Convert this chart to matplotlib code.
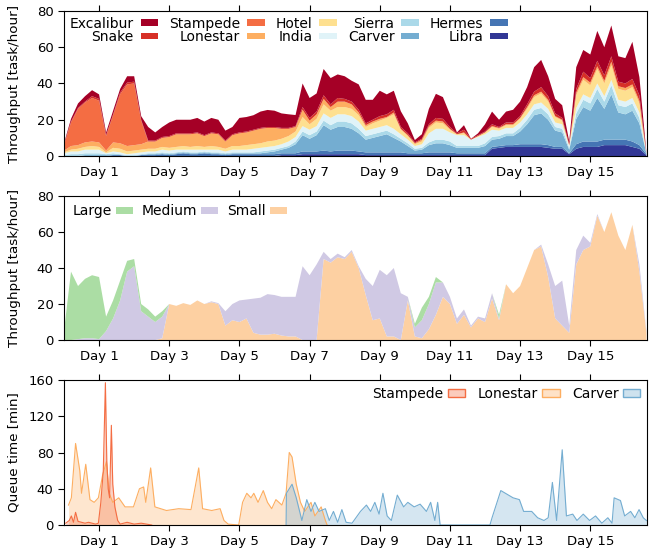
import numpy as np
import matplotlib.pyplot as plt
from matplotlib.patches import Patch

# ---- data ----
# sample times in days, one every 0.2 day
days = np.arange(84) * 0.2

# top panel: throughput per cluster [task/hour], stacked from bottom up
libra = [0, 0, 0, 0, 0, 0, 0, 0, 0, 0,
         0, 0, 0, 0, 0, 0, 0, 0, 0, 0,
         0, 0, 0, 0, 0, 0, 0, 0, 0, 0,
         0, 0.5, 0.5, 0.5, 1, 1, 1, 1, 1, 1,
         1, 1, 1, 0.5, 0.5, 0.5, 0.5, 0.5, 0.5, 0.5,
         0.5, 0.5, 0.5, 0.5, 0.5, 0.5, 0.5, 0.5, 0.5, 0.5,
         0.5, 4, 4.5, 5, 5, 5, 5, 5, 5, 4.5,
         4, 4, 1, 4, 5, 5, 5, 6, 6, 6,
         6, 5, 4, 0.5]
hermes = [0, 0, 0, 0, 0, 0, 0, 0.5, 0.5, 0,
          0, 0.5, 0.5, 0.5, 1, 0.5, 1, 1.5, 1, 1,
          1.5, 1, 1, 0.5, 1, 1, 1, 1, 1, 1,
          1, 1, 1, 1, 1.5, 1.5, 1.5, 2, 1.5, 2,
          2, 2, 1.5, 1.5, 1.5, 1.5, 1.5, 1.5, 1.5, 1,
          1, 1, 1.5, 1.5, 1.5, 1.5, 1, 1, 1, 1,
          1, 1, 1, 1, 1, 1.5, 1.5, 1.5, 1.5, 1.5,
          1, 1, 0.5, 2.5, 3, 3, 3, 3, 3, 3,
          3, 3, 2, 0.5]
carver = [0, 0, 0, 0.5, 0.5, 0.5, 0.5, 0, 0, 0,
          0, 0, 0.5, 0.5, 0.5, 0.5, 0.5, 0.5, 0.5, 0.5,
          0.5, 0.5, 0.5, 0.5, 0.5, 0.5, 0.5, 0.5, 0.5, 1,
          1.5, 2, 3, 5, 9, 7, 9, 14, 12, 13,
          13, 12, 10, 7, 8, 9, 10, 8, 6, 4,
          1.5, 2, 4, 5, 5, 4, 3, 3, 3, 3,
          4, 4, 4, 5, 5, 7, 11, 16, 17, 14,
          9, 8, 2, 14, 19, 17, 24, 17, 25, 15,
          14, 17, 12, 0.5]
sierra = [0.5, 1, 1, 1, 1, 1, 0.5, 1, 0.5, 0.5,
          0.5, 0.5, 0.5, 0.5, 0.5, 0.5, 0.5, 0.5, 0.5, 0.5,
          0.5, 0.5, 0.5, 0.5, 0.5, 0.5, 0.5, 0.5, 1, 1,
          1, 1, 1, 1.5, 2, 2, 2, 2.5, 2.5, 3,
          3, 3, 2.5, 2, 2, 2, 2, 2, 1.5, 1.5,
          1, 1, 1.5, 2, 2, 2, 1, 1, 1, 1,
          1.5, 1.5, 1.5, 1.5, 1.5, 2, 2.5, 3, 3, 3,
          2, 2, 1, 3, 4, 4, 5, 4, 5, 4,
          4, 4, 3, 0]
india = [1, 1.5, 1.5, 2, 2, 2, 0.5, 1, 1, 0.5,
         1, 1, 1, 1, 1.5, 1.5, 1.5, 1, 1.5, 1.5,
         1, 1.5, 1.5, 1, 1.5, 1.5, 1.5, 2, 2, 2,
         2, 2, 2.5, 2.5, 3, 3, 3, 4, 4, 4,
         4, 4, 4, 3, 3, 3, 3, 3, 2.5, 2,
         1.5, 2, 5, 6, 6, 5, 6, 6, 3.5, 5,
         5, 4, 3, 3, 3, 3, 3, 3, 3, 3,
         2.5, 2.5, 1, 3, 3, 3, 3, 3, 3, 3,
         3, 3, 3, 0]
hotel = [0.5, 1, 1.5, 1.5, 2, 1.5, 0.5, 2, 2, 1.5,
         1.5, 1.5, 1.5, 1.5, 1.5, 1.5, 1.5, 2, 1.5, 2,
         1.5, 2, 1.5, 1.5, 2, 2, 2.5, 2.5, 2.5, 3,
         3, 3, 3, 3, 5, 3, 4, 5, 4, 4,
         4, 4, 3.5, 2, 3, 3.5, 4, 8, 2.5, 2,
         1, 1.5, 3, 3.5, 3, 1.5, 0.5, 1, 0, 0.5,
         1, 1.5, 1, 1.5, 1.5, 2, 3, 4, 5, 4,
         3, 2, 0.5, 7, 8, 7, 8, 7, 8, 6,
         6, 6, 5, 0]
lonestar = [1, 2, 2, 2.5, 2.5, 2.5, 1, 3, 3, 3,
            3, 3, 4, 4, 5, 6, 7, 6.5, 7, 7,
            6, 7, 7, 4, 6, 7, 7, 7.5, 8, 7.5,
            7, 5.5, 4, 2.5, 4, 2, 2.5, 3, 2, 3,
            3, 2.5, 1.5, 1, 1, 1, 0.5, 1, 0.5, 0.5,
            0.5, 1, 1, 1, 1, 0.5, 0, 0.5, 0, 0,
            0, 0.5, 0.5, 0.5, 0.5, 0.5, 1, 1, 1, 1,
            0.5, 0.5, 0, 1.5, 1.5, 1.5, 1.5, 1.5, 2, 1.5,
            1.5, 1.5, 1.5, 0]
stampede = [3, 13, 20, 22, 24, 23, 8, 15, 27, 34,
            34, 13] + [0] * 72
snake = [0.5, 0.5, 0.5, 0.5, 1, 1, 0.5, 0.5, 1, 1,
         1, 0.5] + [0.5] * 22 + [
         1.5, 1.5, 1.5, 2, 1.5, 2,
         1.5, 1.5, 1.5, 1, 1, 1.5, 1.5, 1.5, 1, 1,
         0.5, 0.5, 1, 1.5, 1.5, 1, 0.5, 1.5, 0.5, 0.5,
         0.5, 1, 0.5, 1, 1, 1, 1.5, 2, 2.5, 2,
         1.5, 1, 0.5, 2, 3, 2.5, 3, 3, 3, 2.5,
         2.5, 3, 3, 0]
excalibur = [0.5, 1.5, 2.5, 3, 3.3, 2.5, 1.5, 2, 2, 3.5,
             3, 2, 7.5, 4.5, 5.5, 7.5, 7.5, 7.5, 7.5, 8,
             7.5, 8, 7.5, 5.5, 4, 8, 8, 8, 9, 9.4,
             9, 8, 7.5, 6.1, 13, 11, 10, 14.5, 14.5, 13,
             12.5, 11.5, 14, 13, 11, 14, 11, 10.5, 8.7, 5.5,
             1.3, 2.5, 8.5, 13.3, 12, 7, 0.5, 2.5, 0, 1,
             4, 7, 4, 6, 7, 8, 9.5, 13.5, 15, 11,
             8, 7, 1.5, 12, 12, 13, 16.5, 15.5, 17, 14,
             14, 20.5, 10, 0.5]

# middle panel: throughput per task size [task/hour]
small = [0, 0, 0, 0, 0, 0, 0, 0, 0, 0,
         0, 0, 0, 0, 1, 20, 19, 20.5, 19.5, 22,
         20, 21, 20, 8, 11, 10, 12, 4, 3, 3,
         3.5, 2.5, 2, 2, 0, 0, 0, 45, 43, 46,
         45, 49, 40, 25, 11, 12, 2, 2, 0, 22,
         2, 1, 6, 14, 24, 20, 9, 14, 7, 12,
         10, 23, 11, 31, 26, 30, 40, 50, 52, 35,
         12, 8, 4, 42, 50, 52, 69, 60, 71, 58,
         50, 64, 38, 4]
medium = [0, 0, 0.5, 1, 1, 0.5, 5, 12, 22, 38,
          41, 16, 13, 10, 12, 0, 0, 0, 0, 0,
          0, 0.5, 0.5, 8, 9, 12, 10.5, 19, 20.5, 22.5,
          21.5, 21.5, 22, 22, 41, 36, 42, 4, 2, 2,
          1, 1, 1, 9, 19, 27, 34, 38, 26, 2,
          5, 10, 14, 18, 8, 4, 3, 3, 1, 1,
          2, 3, 1, 0, 0, 0, 0, 0, 1, 7,
          18, 25, 4, 8, 8, 2, 1, 0, 0, 0,
          0, 0, 4, 1]
large = [5, 38, 29.5, 33, 35, 34.5, 8, 10, 11, 6,
         4, 4, 4, 3, 3] + [0] * 35 + [2, 7, 4, 3] + [0] * 8 + [2] + [0] * 21

# bottom panel: queue time [min]
stampede_qt_day = [0.05, 0.15, 0.21, 0.27, 0.33, 0.4, 0.5, 0.6, 0.7, 0.8, 0.9,
                   0.98, 1.05, 1.12, 1.18, 1.22, 1.26, 1.3, 1.35, 1.39, 1.45,
                   1.53, 1.6, 1.8, 2.0, 2.2, 2.5]
stampede_qt = [2, 5, 10, 3, 14, 4, 3, 2, 3, 2, 1,
               2, 25, 60, 157, 70, 40, 30, 110, 45, 20,
               5, 1, 3, 1, 2, 0]
lonestar_qt_day = [0.13, 0.21, 0.33, 0.45, 0.5, 0.62, 0.74, 0.86, 0.98, 1.1,
                   1.21, 1.29, 1.39, 1.56, 1.74, 1.98, 2.15, 2.27, 2.33, 2.47,
                   2.59, 2.92, 3.27, 3.62, 3.84, 3.95, 4.21, 4.45, 4.56, 4.68,
                   4.98, 5.09, 5.21, 5.33, 5.41, 5.53, 5.68, 5.8, 5.92, 6.04,
                   6.21, 6.33, 6.42, 6.5, 6.62, 6.74, 6.86, 7.04, 7.15, 7.33,
                   7.45, 7.5]
lonestar_qt = [22, 30, 90, 60, 35, 67, 28, 25, 30, 55,
               70, 35, 25, 30, 20, 20, 40, 42, 25, 63,
               20, 16, 18, 17, 63, 18, 16, 18, 5, 1,
               0, 25, 35, 30, 35, 25, 38, 25, 18, 28,
               22, 35, 80, 75, 45, 25, 15, 25, 10, 20,
               5, 0]
carver_qt_day = [6.33, 6.34, 6.5, 6.62, 6.78, 6.92, 7.04, 7.15, 7.27, 7.45,
                 7.56, 7.68, 7.8, 7.92, 8.04, 8.21, 8.45, 8.62, 8.74, 8.86,
                 8.98, 9.09, 9.21, 9.33, 9.5, 9.68, 9.8, 9.98, 10.15, 10.33,
                 10.45, 10.57, 10.65, 10.72, 12.14, 12.2, 12.45, 12.8, 12.98, 13.1,
                 13.33, 13.5, 13.68, 13.8, 13.92, 14.04, 14.2, 14.32, 14.5, 14.62,
                 14.8, 14.98, 15.15, 15.33, 15.5, 15.62, 15.68, 15.86, 15.98, 16.15,
                 16.27, 16.39, 16.51, 16.6]
carver_qt = [0, 35, 45, 30, 5, 28, 15, 25, 15, 18,
             5, 15, 3, 17, 3, 2, 15, 22, 15, 25,
             12, 35, 10, 5, 33, 20, 25, 20, 23, 15,
             25, 5, 25, 0, 0, 8, 38, 30, 28, 15,
             15, 8, 5, 8, 47, 5, 83, 10, 12, 5,
             12, 5, 10, 2, 8, 2, 30, 27, 10, 15,
             8, 17, 8, 5]

cluster_names = ['Libra', 'Hermes', 'Carver', 'Sierra', 'India',
                 'Hotel', 'Lonestar', 'Stampede', 'Snake', 'Excalibur']
cluster_colors = ['#313695', '#4575b4', '#74add1', '#abd9e9', '#e0f3f8',
                  '#fee090', '#fdae61', '#f46d43', '#d73027', '#a50026']
size_names = ['Small', 'Medium', 'Large']
size_colors = ['#fdd0a2', '#d0c9e4', '#abdda4']

day_ticks = [1, 3, 5, 7, 9, 11, 13, 15]
day_labels = ['Day %d' % d for d in day_ticks]

# ---- figure ----
fig = plt.figure(figsize=(6.49, 5.52), dpi=100)
ax1 = fig.add_axes([0.0986, 0.7174, 0.8985, 0.2627])
ax2 = fig.add_axes([0.0986, 0.384, 0.8985, 0.2609])
ax3 = fig.add_axes([0.0986, 0.0489, 0.8985, 0.2627])


def style_axis(ax, ymax, yticks):
    ax.set_xlim(0, 16.62)
    ax.set_ylim(0, ymax)
    ax.set_xticks(day_ticks)
    ax.set_xticklabels(day_labels)
    ax.set_yticks(yticks)
    ax.tick_params(axis='x', direction='out', top=True, length=4, labelsize=9.5)
    ax.tick_params(axis='y', direction='out', length=4, labelsize=9.5)
    ax.yaxis.set_label_coords(-0.074, 0.5)


# top: per cluster
ax1.stackplot(days, libra, hermes, carver, sierra, india, hotel,
              lonestar, stampede, snake, excalibur,
              colors=cluster_colors, linewidth=0)
style_axis(ax1, 80, [0, 20, 40, 60, 80])
ax1.set_ylabel('Throughput [task/hour]', fontsize=9.7)
order = [9, 8, 7, 6, 5, 4, 3, 2, 1, 0]
handles = [Patch(facecolor=cluster_colors[i], label=cluster_names[i]) for i in order]
ax1.legend(handles=handles, ncol=5, loc='upper left', bbox_to_anchor=(0, 1),
           markerfirst=False, frameon=False, fontsize=10, handlelength=1.25,
           handleheight=0.35, handletextpad=0.5, columnspacing=0.8,
           labelspacing=-0.05, borderaxespad=0.2, borderpad=0.2)

# middle: per task size
ax2.stackplot(days, small, medium, large, colors=size_colors, linewidth=0)
style_axis(ax2, 80, [0, 20, 40, 60, 80])
ax2.set_ylabel('Throughput [task/hour]', fontsize=9.7)
handles = [Patch(facecolor=size_colors[i], label=size_names[i]) for i in [2, 1, 0]]
ax2.legend(handles=handles, ncol=3, loc='upper left', bbox_to_anchor=(0, 1),
           markerfirst=False, frameon=False, fontsize=10, handlelength=1.25,
           handleheight=0.35, handletextpad=0.3, columnspacing=0.6,
           borderaxespad=0.2, borderpad=0.4)

# bottom: queue time
queue = [('Stampede', stampede_qt_day, stampede_qt, '#f46d43'),
         ('Lonestar', lonestar_qt_day, lonestar_qt, '#fdae61'),
         ('Carver', carver_qt_day, carver_qt, '#74add1')]
for name, x, y, c in [queue[1], queue[0], queue[2]]:
    ax3.fill_between(x, y, color=c, alpha=0.3, linewidth=0)
    ax3.plot(x, y, color=c, lw=0.8)
style_axis(ax3, 160, [0, 40, 80, 120, 160])
ax3.set_ylabel('Queue time [min]', fontsize=9.7)
handles = [Patch(facecolor=(c, 0.35), edgecolor=c, lw=1, label=n) for n, _, _, c in queue]
ax3.legend(handles=handles, ncol=3, loc='upper right', bbox_to_anchor=(1, 1),
           markerfirst=False, frameon=False, fontsize=10, handlelength=1.25,
           handleheight=0.5, handletextpad=0.3, columnspacing=0.9,
           borderaxespad=0.2, borderpad=0.3)

fig.savefig('out.png', dpi=100)
